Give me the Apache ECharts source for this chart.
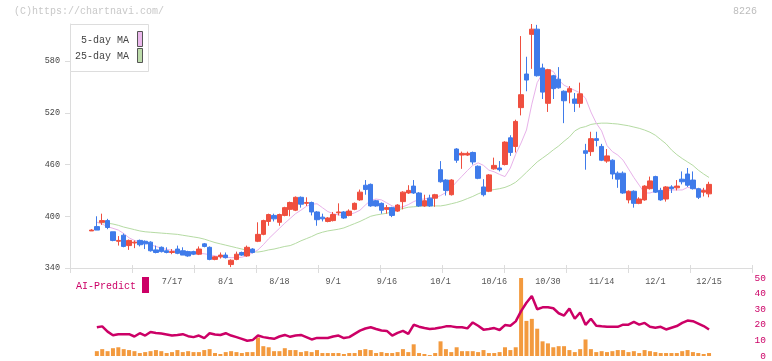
<!DOCTYPE html>
<html><head><meta charset="utf-8">
<script src="https://cdn.jsdelivr.net/npm/echarts@6/dist/echarts.min.js"></script>
<style>html,body{margin:0;padding:0;background:#fff}#c{width:772px;height:361px}</style>
</head><body><div id="c"></div>
<script>
const dates = ['6/26','6/27','6/30',
'7/1','7/2','7/3','7/4','7/7','7/8','7/9','7/10','7/11','7/14','7/15','7/16','7/17','7/18','7/22','7/23','7/24','7/25','7/28','7/29','7/30','7/31',
'8/1','8/4','8/5','8/6','8/7','8/8','8/12','8/13','8/14','8/15','8/18','8/19','8/20','8/21','8/22','8/25','8/26','8/27','8/28','8/29',
'9/1','9/2','9/3','9/4','9/5','9/8','9/9','9/10','9/11','9/12','9/16','9/17','9/18','9/19','9/22','9/24','9/25','9/26','9/29','9/30',
'10/1','10/2','10/3','10/6','10/7','10/8','10/9','10/10','10/14','10/15','10/16','10/17','10/20','10/21','10/22','10/23','10/24','10/27','10/28','10/29','10/30','10/31',
'11/4','11/5','11/6','11/7','11/10','11/11','11/12','11/13','11/14','11/17','11/18','11/19','11/20','11/21','11/25','11/26','11/27','11/28',
'12/1','12/2','12/3','12/4','12/5','12/8','12/9','12/10','12/11','12/12','12/15'];
const tickLabels = ['7/17','8/1','8/18','9/1','9/16','10/1','10/16','10/30','11/14','12/1','12/15'];
const priceTicks = [340, 400, 460, 520, 580];
const aiTicks = [0, 10, 20, 30, 40, 50];

const opens = [383,388,393,395,382,371,378,366,369,372,
371,370,361,364,360,358,362,360,359,359,
356,368,364,350,353,355,344,350,358,354,
362,371,379,394,401,393,401,408,407,422,
415,416,405,399,394,395,404,405,401,408,
419,436,437,418,415,408,410,406,417,427,
435,427,412,421,421,454,442,425,478,471,
471,474,458,434,429,455,456,460,491,481,
526,565,611,617,572,531,563,559,545,544,
536,531,476,475,490,481,464,465,450,450,
419,429,415,419,432,446,430,420,434,433,
443,449,442,432,428,426];
const closes = [384,384,395,387,372,372,365,372,370,367,
368,360,358,359,358,359,357,355,354,356,
362,365,350,353,355,352,349,356,355,364,
358,379,395,402,397,402,410,416,422,414,
416,405,396,397,398,402,405,398,406,415,
428,431,412,412,407,410,401,413,428,430,
427,412,418,412,425,440,430,442,465,473,
473,463,444,425,448,459,454,486,474,510,
541,558,617,563,544,570,548,549,534,548,
531,542,473,490,488,465,470,449,443,427,
429,415,420,435,441,428,419,434,432,435,
440,436,432,422,430,437];
const lows = [383,384,390,385,371,366,364,361,363,365,
362,359,357,358,357,356,356,355,353,355,
355,364,349,349,351,351,341,349,354,353,
357,370,378,389,394,389,400,400,406,410,
412,401,389,394,393,394,401,397,400,407,
418,425,411,411,403,403,399,405,408,426,
426,411,411,411,411,439,424,424,462,455,
470,460,443,423,428,454,452,459,470,474,
517,545,571,562,536,521,536,548,508,531,
521,526,454,470,481,464,462,443,433,426,
415,410,414,418,431,427,418,417,427,430,
437,434,431,420,423,422];
const highs = [385,400,403,397,382,377,380,373,372,373,
372,371,366,365,364,362,366,364,360,360,
365,369,365,354,358,358,350,359,359,366,
363,393,396,403,403,403,411,417,423,423,
422,417,406,403,399,405,415,406,408,416,
431,442,438,419,416,413,411,414,429,436,
442,428,425,425,426,464,443,443,479,475,
475,475,459,443,449,468,464,487,494,512,
609,585,623,622,577,571,564,573,546,551,
543,555,484,498,498,484,478,466,452,452,
430,430,422,436,446,447,433,435,436,442,
452,456,452,433,433,440];
const ma5 = [null,393,391,388,386,384,380,375,372,370.5,
369,367,365,363,361.5,360.5,359.5,358.5,358,357.5,
357,356.5,355.5,354,353,352.5,352,352,352.5,354.5,
357.5,361,367,374,380,386,392,397.5,403,407,
411.5,414,414.5,410,405.5,403,401.5,401,402,404,
407,413,418.5,420,419,415.5,412,410,411,413.5,
417,419.5,420,421.5,421.5,424,427.5,433,440,446.5,
453,459,462,459,453.5,451.5,448.5,446,456,472,
485,500,530,555,566,570,568,558,552,549,
546,543,537,521,508,499,482,475,471,465,
455,445,436,427,427,429,430,430,430.5,430.5,
430.5,433.5,432.5,431,430.5,430.5];
const ma25 = [null,393,392.5,392,391,389.5,387.5,386,384.5,383,
382,381.5,381,380.5,380,379.5,379,378,377,376,
375,373.5,371.5,369.5,368,366.5,365,363.5,362,360.5,
359,358.5,359.5,361,362,363.5,365,366,368.5,371.5,
374,376.5,379.5,381.5,383,384,385,386.5,389,391.5,
394,397,400,401.5,402.5,403.5,405,407.5,409,410.5,
411,411.5,412,412,412,412,413,414.5,416,418,
420.5,423,426,428.5,430,431,432,433.5,436,439.5,
445,451,457,463,467.5,472,477,481.5,487,492,
499,502.5,504,506.5,507.5,508,508,507.5,507,506,
505,503.5,502,500,497.5,494,489,484,477,471.5,
467,463,459,453.5,449,445];
const aiPredict = [null,18.4,19.0,15.6,13.3,14.0,14.0,14.0,12.5,14.6,
13.1,15.4,14.8,14.4,13.8,13.1,13.5,14.0,12.7,12.1,
13.1,11.5,14.6,13.8,13.5,14.6,13.1,12.1,11.0,9.8,
10.2,13.1,12.1,11.5,11.0,12.5,13.5,12.3,13.1,13.5,
12.1,10.6,11.6,11.5,11.5,12.5,13.1,11.5,12.1,14.2,
16.3,17.6,18.4,17.3,16.3,16.1,13.1,14.8,16.1,14.2,
20.0,18.8,17.9,17.3,17.7,18.2,19.0,19.0,18.4,18.4,
17.7,21.5,19.4,16.9,17.3,17.9,16.7,19.8,19.4,22.2,
28.8,34.1,38.5,30.0,31.2,31.2,30.6,27.4,25.9,30.4,
23.9,27.9,20.0,23.9,19.4,19.0,18.7,18.7,18.7,20.1,
20.1,21.8,20.1,21.2,18.7,18.1,18.7,17.0,18.1,19.2,
21.2,22.7,22.3,20.8,19.2,17.0];
const volume = [null,3.1,4.4,3.1,5.0,5.6,4.4,3.8,3.1,1.9,
2.5,3.1,3.8,3.1,1.9,2.5,3.8,2.5,3.1,2.5,
2.5,3.8,4.4,1.9,1.3,2.5,3.1,2.5,1.9,2.5,
2.5,11.9,6.3,5.6,3.1,3.1,5.0,3.8,3.8,2.5,
3.1,2.5,3.8,1.9,1.9,1.9,1.9,1.3,1.9,1.9,
3.8,4.4,3.8,1.9,2.5,1.9,1.9,2.5,4.4,2.5,
7.5,1.9,1.3,0.6,1.9,9.4,4.4,2.5,5.6,3.1,
3.1,3.1,2.5,3.8,1.9,1.9,2.5,5.6,3.8,5.6,
50,22.5,23.8,17.5,9.4,8.1,5.6,6.3,6.3,3.8,
2.5,4.4,10.6,4.4,2.5,3.1,2.5,3.1,3.8,3.8,
2.5,3.1,1.9,3.8,3.1,2.5,1.9,1.9,1.9,1.9,
3.1,3.8,2.5,1.9,1.3,1.9];

// build options
const LEAD = 4, TRAIL = 8;
const pad = (n, v) => Array.from({length: n}, () => v);
const cats = [...Array.from({length: LEAD}, (_, i) => 'a' + i), ...dates, ...Array.from({length: TRAIL}, (_, i) => 'z' + i)];
const fix = a => a.map(v => v == null ? '-' : v);
const candleData = [...pad(LEAD, ['-','-','-','-']), ...dates.map((d, i) => [opens[i], closes[i], lows[i], highs[i]])];
const tickSet = new Set(tickLabels);
const FONT = 'Liberation Mono';
const AXC = '#dcdcdc';
const RED = '#ef4f3f', BLUE = '#3f7bea', PINK = '#e8b2ea', GREEN = '#b5dba3', MAG = '#cc0066';

const chart = echarts.init(document.getElementById('c'), null, {renderer: 'canvas'});
chart.setOption({
  animation: false,
  backgroundColor: '#fff',
  textStyle: {fontFamily: FONT},
  grid: [
    {left: 70, right: 20, top: 24, height: 244},
    {left: 70, right: 20, top: 278, height: 80}
  ],
  xAxis: [
    {type: 'category', gridIndex: 0, data: cats, boundaryGap: false,
     axisLine: {show: false}, axisTick: {show: false}, splitLine: {show: false},
     axisLabel: {interval: (idx, val) => tickSet.has(val), margin: 9, fontSize: 8.5, color: '#555', fontFamily: FONT}},
    {type: 'category', gridIndex: 1, data: cats, boundaryGap: false,
     axisLine: {show: false}, axisTick: {show: false}, axisLabel: {show: false}, splitLine: {show: false}},
    {type: 'value', gridIndex: 0, min: 0, max: 11, interval: 1, position: 'bottom',
     axisLine: {show: true, lineStyle: {color: AXC}}, axisTick: {show: true, inside: true, length: 3, lineStyle: {color: AXC}},
     axisLabel: {show: false}, splitLine: {show: false}},
    {type: 'value', gridIndex: 0, min: 0, max: 11, interval: 1, position: 'bottom',
     axisLine: {show: false}, axisTick: {show: true, inside: false, length: 5, lineStyle: {color: AXC}},
     axisLabel: {show: false}, splitLine: {show: false}}
  ],
  yAxis: [
    {type: 'value', gridIndex: 0, min: priceTicks[0], max: 623, interval: 60, position: 'left',
     axisLine: {show: true, lineStyle: {color: AXC}}, axisTick: {show: true, length: 5, lineStyle: {color: AXC}},
     splitLine: {show: false},
     axisLabel: {showMaxLabel: false, margin: 10, fontSize: 8.5, color: '#444', fontFamily: FONT,
       formatter: v => priceTicks.includes(v) ? String(v) : ''}},
    {type: 'value', gridIndex: 1, min: 0, max: 50, show: false},
    {type: 'value', gridIndex: 1, min: aiTicks[0], max: aiTicks[aiTicks.length - 1], interval: 10, position: 'right',
     axisLine: {show: false}, axisTick: {show: false}, splitLine: {show: false},
     axisLabel: {margin: 14, align: 'right', fontSize: 9.5, color: MAG, fontFamily: FONT}}
  ],
  series: [
    {type: 'line', xAxisIndex: 0, yAxisIndex: 0, data: [...pad(LEAD, '-'), ...fix(ma25)], showSymbol: false, symbol: 'none',
     lineStyle: {color: GREEN, width: 1}, z: 2, silent: true},
    {type: 'line', xAxisIndex: 0, yAxisIndex: 0, data: [...pad(LEAD, '-'), ...fix(ma5)], showSymbol: false, symbol: 'none',
     lineStyle: {color: PINK, width: 1}, z: 2, silent: true},
    {type: 'candlestick', xAxisIndex: 0, yAxisIndex: 0, data: candleData, barWidth: 5, z: 3,
     itemStyle: {color: RED, color0: BLUE, borderColor: RED, borderColor0: BLUE, borderWidth: 1}},
    {type: 'bar', xAxisIndex: 1, yAxisIndex: 1, data: [...pad(LEAD, '-'), ...fix(volume)], barWidth: 4,
     itemStyle: {color: '#f39a3e'}, silent: true},
    {type: 'line', xAxisIndex: 1, yAxisIndex: 2, data: [...pad(LEAD, '-'), ...fix(aiPredict)], showSymbol: false, symbol: 'none',
     lineStyle: {color: MAG, width: 2.5}, z: 4, silent: true}
  ],
  graphic: [
    {type: 'text', left: 14, top: 6, style: {text: '(C)https://chartnavi.com/', fill: '#c8c8c8', font: '10px "Liberation Mono"'}},
    {type: 'text', right: 15, top: 6, style: {text: '8226', fill: '#bdbdbd', font: '10px "Liberation Mono"'}},
    {type: 'rect', shape: {x: 70.5, y: 24.5, width: 78, height: 47}, style: {fill: '#fff', stroke: '#dddddd', lineWidth: 1}, z: 10},
    {type: 'text', x: 129, y: 40, style: {text: '5-day MA', fill: '#444', font: '10px "Liberation Mono"', align: 'right', verticalAlign: 'middle'}, z: 11},
    {type: 'text', x: 129, y: 56, style: {text: '25-day MA', fill: '#444', font: '10px "Liberation Mono"', align: 'right', verticalAlign: 'middle'}, z: 11},
    {type: 'rect', shape: {x: 137.5, y: 31.5, width: 5, height: 15}, style: {fill: '#ebb8ec', stroke: '#555', lineWidth: 1}, z: 11},
    {type: 'rect', shape: {x: 137.5, y: 48.5, width: 5, height: 14}, style: {fill: '#bddcab', stroke: '#555', lineWidth: 1}, z: 11},
    {type: 'text', x: 76, y: 286, style: {text: 'AI-Predict', fill: MAG, font: '10px "Liberation Mono"', verticalAlign: 'middle'}, z: 11},
    {type: 'rect', shape: {x: 142, y: 277, width: 7, height: 16}, style: {fill: MAG}, z: 11}
  ]
});
</script>
</body></html>
